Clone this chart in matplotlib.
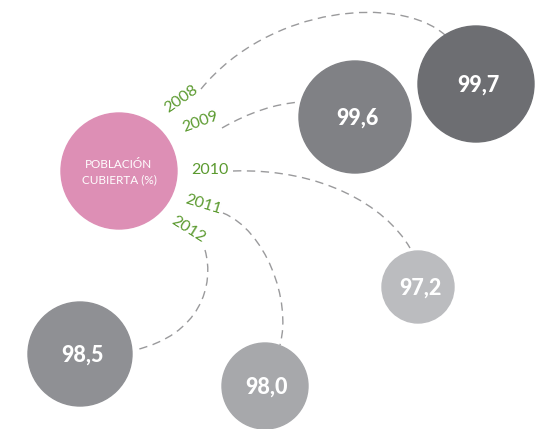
import numpy as np
import matplotlib.pyplot as plt
from matplotlib.path import Path
from matplotlib.patches import Circle, PathPatch

plt.rcParams['font.family'] = ['Lato', 'DejaVu Sans']

# data
years = ["2008", "2009", "2010", "2011", "2012"]
values = [99.7, 99.6, 97.2, 98.0, 98.5]
labels = [f"{v:.1f}".replace(".", ",") for v in values]

# layout (pixel coords, y downwards)
centers = [(476, 84), (355, 117), (418, 287), (265, 386), (80, 354)]
radii = [58, 56, 36, 43, 52]
colors = ["#6d6e72", "#808185", "#bbbcbf", "#a7a8ab", "#8f9094"]

year_pos = [(181, 99), (200, 122), (210, 170), (203, 205), (188, 230)]
year_rot = [35, 20, 0, -17, -32]

# bezier curves: start, ctrl1, ctrl2, end
curves = [
    [(201, 89), (270, 5), (400, -5), (445, 35)],
    [(222, 128), (250, 112), (275, 104), (300, 102)],
    [(233, 171), (320, 168), (385, 205), (410, 248)],
    [(223, 213), (265, 230), (292, 300), (280, 345)],
    [(205, 250), (215, 285), (200, 335), (135, 350)],
]

fig = plt.figure(figsize=(5.35, 4.29), dpi=100)
ax = fig.add_axes([0, 0, 1, 1])
ax.set_xlim(0, 535)
ax.set_ylim(429, 0)
ax.axis("off")

for pts in curves:
    path = Path(pts, [Path.MOVETO, Path.CURVE4, Path.CURVE4, Path.CURVE4])
    ax.add_patch(PathPatch(path, fill=False, edgecolor="#9a9a9c", lw=1.0,
                           linestyle=(0, (6, 4)), zorder=1))

# center circle
ax.add_patch(Circle((119, 171), 58, color="#dd8fb5", zorder=2))
ax.text(119, 172, "POBLACIÓN\nCUBIERTA (%)", color="white", fontsize=8.5,
        ha="center", va="center", linespacing=1.45, zorder=3)

for (cx, cy), r, c, lab in zip(centers, radii, colors, labels):
    ax.add_patch(Circle((cx, cy), r, color=c, zorder=2))
    ax.text(cx + 2, cy + 1, lab, color="white", fontsize=15.5, fontweight="black",
            ha="center", va="center", zorder=3)

for (x, y), rot, yr in zip(year_pos, year_rot, years):
    ax.text(x, y, yr, color="#5b9a2f", fontsize=11.5, rotation=rot,
            ha="center", va="center", rotation_mode="anchor", zorder=3)

fig.savefig("out.png", dpi=100)
